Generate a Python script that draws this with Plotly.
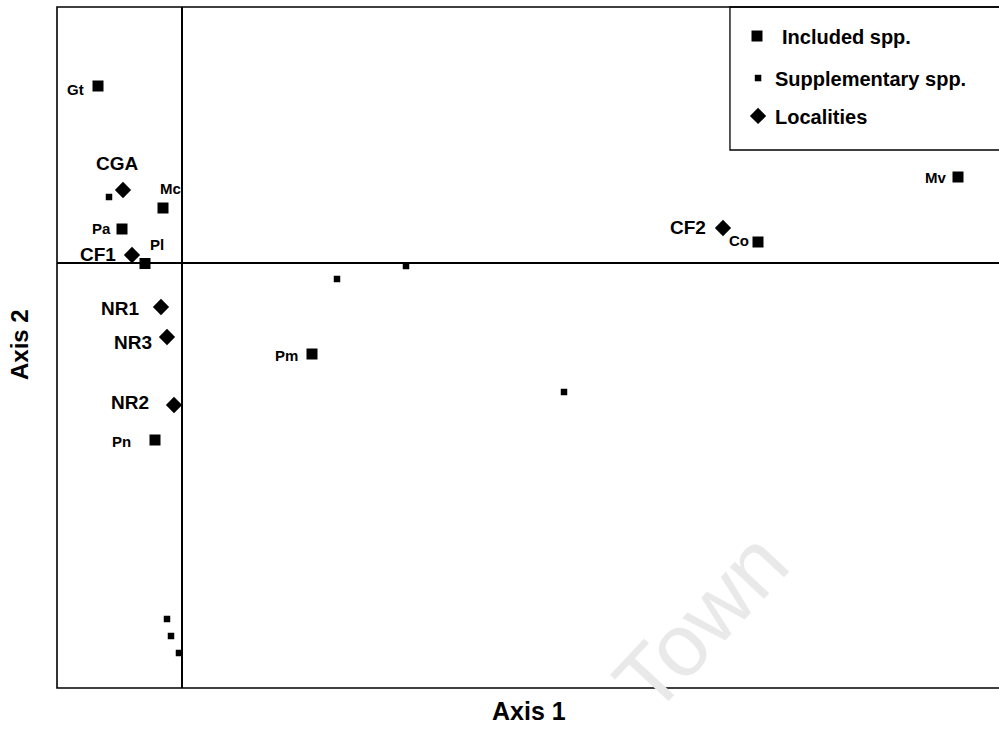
import plotly.graph_objects as go

# Included species
inc_names = ["Gt", "Mc", "Pa", "Pl", "Pn", "Pm", "Co", "Mv"]
inc_x = [-0.84, -0.19, -0.60, -0.37, -0.27, 1.30, 5.76, 7.76]
inc_y = [1.77, 0.55, 0.34, -0.005, -1.77, -0.91, 0.21, 0.86]

# Supplementary species
sup_x = [-0.73, 1.55, 2.24, 3.82, -0.15, -0.11, -0.03]
sup_y = [0.66, -0.16, -0.03, -1.29, -3.56, -3.73, -3.90]

# Localities
loc_names = ["CGA", "CF1", "NR1", "NR3", "NR2", "CF2"]
loc_x = [-0.59, -0.50, -0.21, -0.15, -0.08, 5.41]
loc_y = [0.73, 0.08, -0.44, -0.74, -1.42, 0.35]

legend_labels = ["Included spp.", "Supplementary spp.", "Localities"]

FONT = "Liberation Sans, Arial, sans-serif"

fig = go.Figure()
fig.add_trace(go.Scatter(x=inc_x, y=inc_y, mode="markers",
                         marker=dict(symbol="square", size=11, color="black"),
                         showlegend=False))
fig.add_trace(go.Scatter(x=sup_x, y=sup_y, mode="markers",
                         marker=dict(symbol="square", size=6.5, color="black"),
                         showlegend=False))
fig.add_trace(go.Scatter(x=loc_x, y=loc_y, mode="markers",
                         marker=dict(symbol="diamond", size=12.5, color="black"),
                         showlegend=False))

# label offsets (pixels) and anchors
inc_lab = {
    "Gt": (-12, -3, "right"),
    "Mc": (-5, 20, "left"),
    "Pa": (-9, 1, "right"),
    "Pl": (3, 19, "left"),
    "Pn": (-22, -1, "right"),
    "Pm": (-12, -1, "right"),
    "Co": (-31, 2, "left"),
    "Mv": (-10, 0, "right"),
}
for n, x, y in zip(inc_names, inc_x, inc_y):
    dx, dy, al = inc_lab[n]
    fig.add_annotation(x=x, y=y, text="<b>" + n + "</b>", showarrow=False,
                       xshift=dx, yshift=dy, xanchor=al, yanchor="middle",
                       font=dict(family=FONT, size=15, color="black"))

loc_lab = {
    "CGA": (-6, 27, "center"),
    "CF1": (-14, 1, "right"),
    "NR1": (-20, -1, "right"),
    "NR3": (-13, -5, "right"),
    "NR2": (-23, 3, "right"),
    "CF2": (-15, 1, "right"),
}
for n, x, y in zip(loc_names, loc_x, loc_y):
    dx, dy, al = loc_lab[n]
    fig.add_annotation(x=x, y=y, text="<b>" + n + "</b>", showarrow=False,
                       xshift=dx, yshift=dy, xanchor=al, yanchor="middle",
                       font=dict(family=FONT, size=19, color="black"))

# Manual legend (overlay axes in 0..1 units)
leg_x = [0.7431, 0.7442, 0.7442]
leg_y = [0.9574, 0.8957, 0.8400]
leg_sym = ["square", "square", "diamond"]
leg_size = [11, 6.5, 12.5]
for lx, ly, s, sz in zip(leg_x, leg_y, leg_sym, leg_size):
    fig.add_trace(go.Scatter(x=[lx], y=[ly], xaxis="x2", yaxis="y2", mode="markers",
                             marker=dict(symbol=s, size=sz, color="black"),
                             showlegend=False, hoverinfo="skip"))
leg_tx = [0.768, 0.760, 0.760]
leg_ty = [0.9560, 0.8943, 0.8385]
for tx, ty, t in zip(leg_tx, leg_ty, legend_labels):
    fig.add_annotation(x=tx, y=ty, xref="x2", yref="y2", text="<b>" + t + "</b>",
                       showarrow=False, xanchor="left", yanchor="middle",
                       font=dict(family=FONT, size=20, color="black"))

fig.add_shape(type="rect", xref="paper", yref="paper", x0=0.7144, x1=1.05, y0=0.790, y1=1.0,
              line=dict(color="black", width=1.3), fillcolor="rgba(0,0,0,0)")
# Frame (right edge falls outside the page)
fig.add_shape(type="rect", xref="paper", yref="paper", x0=0, x1=1.05, y0=0, y1=1,
              line=dict(color="black", width=1.6), fillcolor="rgba(0,0,0,0)")

# Axis titles
fig.add_annotation(xref="paper", yref="paper", x=(529 - 57) / 942, y=(688 - 711) / 681,
                   text="<b>Axis 1</b>", showarrow=False, xanchor="center", yanchor="middle",
                   font=dict(family=FONT, size=25, color="black"))
fig.add_annotation(xref="paper", yref="paper", x=(19 - 57) / 942, y=(688 - 345) / 681,
                   text="<b>Axis 2</b>", showarrow=False, xanchor="center", yanchor="middle",
                   textangle=-90, font=dict(family=FONT, size=24, color="black"))

# faint watermark
fig.add_annotation(xref="paper", yref="paper", x=(700 - 57) / 942, y=(688 - 622) / 681,
                   text="Town", showarrow=False, textangle=-47,
                   xanchor="center", yanchor="middle",
                   font=dict(family=FONT, size=88, color="#e9e9e9"))

fig.update_layout(
    width=999, height=743,
    margin=dict(l=57, r=0, t=7, b=55),
    paper_bgcolor="white", plot_bgcolor="white",
    xaxis=dict(range=[-1.25, 8.17], showgrid=False, showticklabels=False, ticks="",
               zeroline=True, zerolinecolor="black", zerolinewidth=1.5, showline=False),
    yaxis=dict(range=[-4.25, 2.56], showgrid=False, showticklabels=False, ticks="",
               zeroline=True, zerolinecolor="black", zerolinewidth=1.5, showline=False),
    xaxis2=dict(range=[0, 1], overlaying="x", visible=False),
    yaxis2=dict(range=[0, 1], overlaying="y", visible=False),
)

fig.write_html("out.html")
